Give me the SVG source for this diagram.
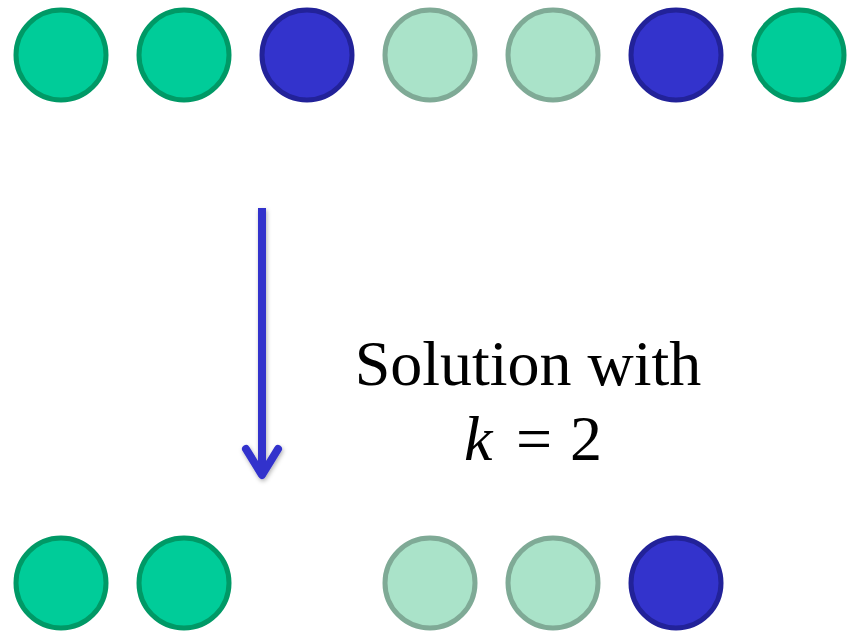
<svg xmlns="http://www.w3.org/2000/svg" width="850" height="634" viewBox="0 0 850 634">
<style>
.g{fill:#00cc99;stroke:#009966;stroke-width:5}
.l{fill:#aae3c9;stroke:#7faa96;stroke-width:5}
.b{fill:#3333cc;stroke:#222299;stroke-width:5}
.t{font-family:"Liberation Serif",serif;font-size:64px;fill:#000}
</style>
<defs>
<filter id="sh" x="-50%" y="-10%" width="200%" height="120%"><feDropShadow dx="1" dy="2" stdDeviation="2" flood-color="#000" flood-opacity="0.3"/></filter>
</defs>
<g id="top">
<circle id="t1" class="g" cx="61" cy="55" r="45"/>
<circle id="t2" class="g" cx="184" cy="55" r="45"/>
<circle id="t3" class="b" cx="307" cy="55" r="45"/>
<circle id="t4" class="l" cx="430" cy="55" r="45"/>
<circle id="t5" class="l" cx="553" cy="55" r="45"/>
<circle id="t6" class="b" cx="676" cy="55" r="45"/>
<circle id="t7" class="g" cx="799" cy="55" r="45"/>
</g>
<g id="bottom">
<circle id="b1" class="g" cx="61" cy="583" r="45"/>
<circle id="b2" class="g" cx="184" cy="583" r="45"/>
<circle id="b4" class="l" cx="430" cy="583" r="45"/>
<circle id="b5" class="l" cx="553" cy="583" r="45"/>
<circle id="b6" class="b" cx="676" cy="583" r="45"/>
</g>
<g id="connectors" filter="url(#sh)" stroke="#3333cc" stroke-width="8" fill="none" stroke-linecap="round" stroke-linejoin="round">
<line x1="262" y1="208" x2="262" y2="472" stroke-linecap="butt"/>
<polyline points="246,449 262,475 278,449"/>
</g>
<g id="label">
<text class="t" x="528" y="385" text-anchor="middle">Solution with</text>
<text class="t" y="460"><tspan x="464" font-style="italic">k</tspan><tspan x="516">=</tspan><tspan x="570">2</tspan></text>
</g>
</svg>
